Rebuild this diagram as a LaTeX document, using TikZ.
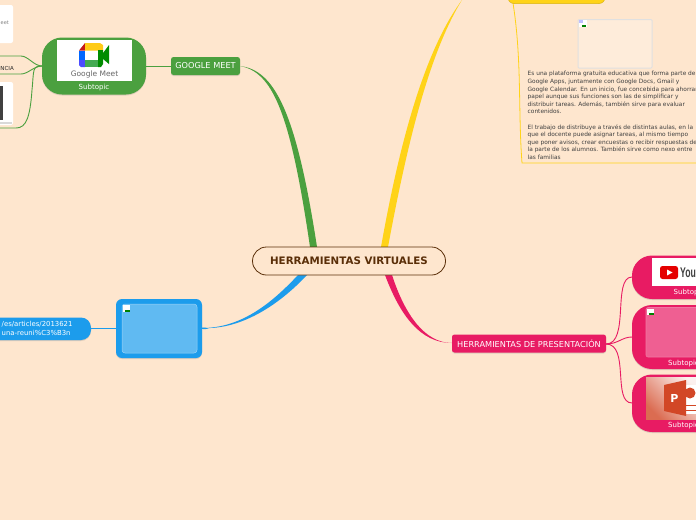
\documentclass[tikz,border=0pt]{standalone}
\usepackage{fontspec}
\setmainfont{DejaVu Sans}
\newfontfamily\logofont{Liberation Sans}
\usetikzlibrary{shadows}
\definecolor{bg}{HTML}{FEE6CE}
\definecolor{gr}{HTML}{4BA03F}
\definecolor{ye}{HTML}{FFD318}
\definecolor{bl}{HTML}{1C9CEC}
\definecolor{pk}{HTML}{E81B63}
\definecolor{br}{HTML}{5A2E08}
\definecolor{ppt}{HTML}{D24726}
\tikzset{
 x=1pt,y=-1pt,
 lab/.style={font=\fontsize{8.2}{10}\selectfont,text=white,inner sep=0pt},
 sub/.style={font=\fontsize{7}{9}\selectfont,text=white,inner sep=0pt},
 softshadow/.style={drop shadow={opacity=.25,shadow xshift=0pt,shadow yshift=-1pt}},
 pill/.style={fill=#1,rounded corners=2.5pt,softshadow},
 big/.style={fill=#1,rounded corners=20pt,softshadow},
 conn/.style={draw=#1,line width=.9pt},
}
\begin{document}
\begin{tikzpicture}
\useasboundingbox (0,0) rectangle (696,520);
\fill[bg] (0,0) rectangle (696,520);
% thick branches
\coordinate (gm) at (240,66);
\coordinate (ym) at (462,0);
\coordinate (bm) at (202,328);
\coordinate (pm) at (452,343);
\fill[gr] (gm) .. controls (272,72) and (290,110) .. (310,247) -- (317,247) .. controls (296,110) and (274,70) .. (gm) -- cycle;
\fill[ye] (ym) .. controls (425,50) and (400,140) .. (381,247) -- (388,247) .. controls (406,150) and (428,55) .. (ym) -- cycle;
\fill[bl] (bm) .. controls (240,328) and (270,305) .. (298,275) -- (307,275) .. controls (278,306) and (240,330) .. (bm) -- cycle;
\fill[pk] (pm) .. controls (420,343) and (400,315) .. (385,275) -- (392,275) .. controls (405,315) and (425,343) .. (pm) -- cycle;
% central
\node[draw=br,fill=bg,line width=.8pt,rounded corners=14pt,minimum width=193pt,minimum height=28pt,inner sep=0pt,font=\fontsize{10.3}{12}\bfseries\selectfont,text=br] (root) at (349,261) {HERRAMIENTAS VIRTUALES};
% google meet
\node[pill=gr,minimum width=69pt,minimum height=18pt,inner sep=0pt] (gmn) at (205.5,66) {};
\node[lab] at (gmn) {GOOGLE MEET};
\node[big=gr,minimum width=104pt,minimum height=57pt,inner sep=0pt] (gs) at (94,66) {};
\fill[white] (57,40) rectangle (131.5,81);
% logo
\fill[white] (86,50) rectangle (100,63);
\fill[red!75!black!90] (79,50.5) -- (85,43) -- (85,50.5) -- cycle;
\fill[blue!60!cyan] (79,50.5) rectangle (85,60);
\fill[blue!70] (79,60) -- (85,60) -- (85,67) -- (81,67) -- (79,65) -- cycle;
\fill[ye!90!orange] (85,43) -- (100,43) -- (103,45) -- (103,50.5) -- (85,50.5) -- cycle;
\fill[gr!90!cyan] (85,60) -- (98,60) -- (98,67) -- (85,67) -- cycle;
\fill[green!55!black] (98,50) -- (103,50) -- (103,64) -- (101,67) -- (98,67) -- cycle;
\fill[green!55!black] (103,53) -- (109,45) -- (109,64) -- (103,59) -- cycle;
\node[font=\fontsize{7.5}{9}\selectfont,text=black!60,inner sep=0pt] at (94.5,74) {Google Meet};
\node[sub] at (94,87.5) {Subtopic};
\draw[conn=gr] (gs.east) -- (gmn.west);
\coordinate (gl) at (42,66);
\draw[conn=gr] (gl) .. controls (34,66) and (28,56) .. (21,56) -- (0,56);
\draw[conn=gr] (gl) .. controls (34,66) and (28,74) .. (21,74) -- (0,74);
\draw[conn=gr] (gl) .. controls (32,66) and (34,70) .. (32,90) .. controls (30,118) and (26,128) .. (16,128) -- (0,128);
\node[font=\fontsize{5.5}{7}\selectfont,text=black!85,anchor=east,inner sep=0pt] at (14,68) {NCIA};
\fill[white,rounded corners=2pt] (-10,5) rectangle (13,43);
\node[font=\fontsize{5}{6}\selectfont,text=black!50,anchor=east,inner sep=0pt] at (9,23) {eet};
\fill[white,rounded corners=2pt] (-10,82) rectangle (13,125);
\fill[black!75] (0,86) rectangle (3,120);
\fill[black!15] (0,122) rectangle (12,124);
% classroom
\draw[ye,line width=.8pt] (513,3) .. controls (522,60) and (518,110) .. (522,163) -- (696,163);
\draw[ye!85!black,line width=.5pt,fill=ye,rounded corners=6pt] (508,-12) rectangle (605,3.5);
\draw[black!12,line width=1pt,fill=white!25!bg,rounded corners=1pt] (578,19.5) rectangle (652,68);
\node[font=\fontsize{5.85}{7.6}\selectfont,text=black!75,align=left,anchor=north west,inner sep=0pt] (txt) at (527.5,71.2) {Es una plataforma gratuita educativa que forma parte de\\Google Apps, juntamente con Google Docs, Gmail y\\Google Calendar. En un inicio, fue concebida para ahorrar\\papel aunque sus funciones son las de simplificar y\\distribuir tareas. Además, también sirve para evaluar\\contenidos.\\[7.6pt]El trabajo de distribuye a través de distintas aulas, en la\\que el docente puede asignar tareas, al mismo tiempo\\que poner avisos, crear encuestas o recibir respuestas de\\la parte de los alumnos. También sirve como nexo entre\\las familias};
% broken image icon
\fill[white] (579,20) rectangle (587,27);
\fill[green!50!black] (582,25) rectangle (586,27);
\fill[blue!25] (579,20) rectangle (583,23);
% blue
\node[fill=bl,rounded corners=6pt,softshadow,minimum width=86pt,minimum height=59pt,inner sep=0pt] (bs) at (159,328.5) {};
\draw[white!55!bl,fill=white!30!bl,line width=.5pt,rounded corners=3pt] (122,304) rectangle (197,353);
\fill[white] (123,305) rectangle (130,312);
\fill[green!50!black] (125,310) rectangle (130,312);
\draw[conn=bl] (bs.east) .. controls (208,329) and (208,328) .. (bm);
\draw[conn=bl] (bs.west) -- (90,328.5);
\fill[bl,rounded corners=10pt,softshadow] (-20,317.5) rectangle (91,340);
\node[font=\fontsize{6.9}{9.2}\selectfont,text=white,align=left,anchor=west,inner sep=0pt] at (1.5,328.6) {/es/articles/2013621\\una-reuni\%C3\%B3n};
% pink
\node[pill=pk,minimum width=154pt,minimum height=18pt,inner sep=0pt] (pn) at (529,343.5) {};
\node[lab] at (pn) {HERRAMIENTAS DE PRESENTACIÓN};
\coordinate (ps) at (606,344);
\draw[conn=pk] (ps) .. controls (630,344) and (612,277) .. (632,277);
\draw[conn=pk] (ps) .. controls (618,344) and (622,337) .. (632,337);
\draw[conn=pk] (ps) .. controls (630,344) and (612,403) .. (632,403);
\fill[pk,rounded corners=20pt,softshadow] (632,255.5) rectangle (730,299);
\fill[pk,rounded corners=20pt,softshadow] (632,305) rectangle (730,369);
\fill[pk,rounded corners=20pt,softshadow] (632,374.5) rectangle (730,432);
\fill[white] (652,258) rectangle (700,286);
\fill[red!90!black,rounded corners=2.5pt] (660,266) rectangle (678,279);
\fill[white] (667,269.5) -- (672.5,272.5) -- (667,275.5) -- cycle;
\node[font=\fontsize{14}{14}\logofont\bfseries\selectfont,text=black!75,anchor=west,inner sep=0pt,xscale=.62] at (680,272.5) {You};
\node[sub,anchor=west] at (673.5,292.5) {Subtopic};
\draw[white!40!pk,fill=white!30!pk,rounded corners=2pt,line width=.6pt] (646,307.5) rectangle (700,357);
\fill[white] (647,309) rectangle (654,315);
\fill[green!50!black] (649,313) rectangle (654,315);
\node[sub,anchor=west] at (668,363.5) {Subtopic};
\shade[left color=ppt!80!white,right color=ppt!8!white,shading angle=135] (646,377) rectangle (700,419);
\fill[white] (686,385) rectangle (700,414);
\fill[ppt] (664,385) -- (686,380) -- (686,416) -- (664,411) -- cycle;
\node[font=\fontsize{11}{12}\bfseries\selectfont,text=white,inner sep=0pt] at (674.5,398) {P};
\draw[ppt,line width=1pt] (686,405) -- (700,405) (686,410) -- (700,410);
\fill[ppt] (690,393) circle (5.5pt);
\node[sub,anchor=west] at (668,425.5) {Subtopic};
\end{tikzpicture}
\end{document}
